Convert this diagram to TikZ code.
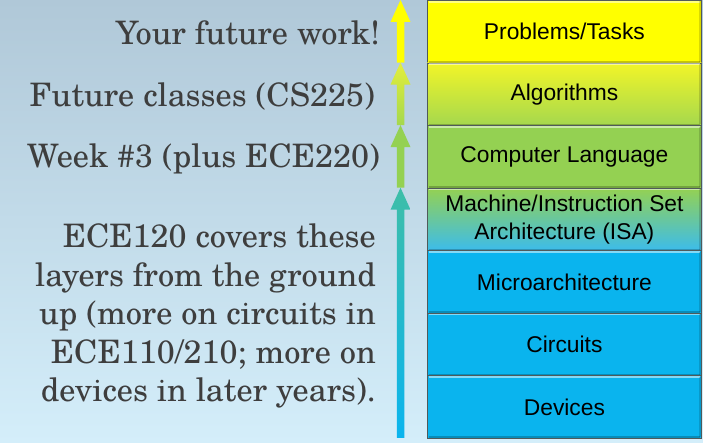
\documentclass[tikz,border=0pt]{standalone}
\usepackage{fontspec}
\newfontfamily\layerfont{Liberation Sans}
\newfontfamily\leftfont{texgyreschola-regular}[Extension=.otf]
\usetikzlibrary{calc}
\definecolor{bgtop}{RGB}{176,200,216}
\definecolor{bgbot}{RGB}{212,238,250}
\definecolor{txtgray}{RGB}{62,62,62}
\definecolor{lyellow}{RGB}{255,255,0}
\definecolor{lyellowB}{RGB}{242,245,40}
\definecolor{lgreenA}{RGB}{165,216,78}
\definecolor{lgreen}{RGB}{148,209,82}
\definecolor{lblue}{RGB}{10,180,238}
\definecolor{lblueB}{RGB}{60,188,235}
\definecolor{arrB}{RGB}{228,238,60}
\definecolor{arrTeal}{RGB}{62,190,168}
\definecolor{edge}{RGB}{80,90,90}
\tikzset{
  layer/.style={rectangle, anchor=north west, minimum width=274pt, minimum height=62.57pt,
    inner sep=0pt, draw=edge, line width=0.8pt, align=center,
    font=\layerfont\fontsize{22.8}{28}\selectfont, text=black},
  lefttext/.style={inner sep=0pt, text=txtgray, font=\leftfont\fontsize{32.3}{38.5}\selectfont},
}
\newcommand\layerarrow[4]{%
  \shade[top color=#3, bottom color=#4]
    ($(#1)+(-3.75,0)$) -- ($(#2)+(-3.75,-22)$) -- ($(#2)+(-10,-22)$) -- (#2)
    -- ($(#2)+(10,-22)$) -- ($(#2)+(3.75,-22)$) -- ($(#1)+(3.75,0)$) -- cycle;}
\begin{document}
\begin{tikzpicture}[x=1pt,y=1pt]
\useasboundingbox (0,0) rectangle (703,443);
\shade[top color=bgtop, bottom color=bgbot] (0,0) rectangle (703,443);

% layers
\node[layer, fill=lyellow] (tasks) at (427,443) {Problems/Tasks};
\node[layer, top color=lyellowB, bottom color=lgreenA] (algo) at (427,380.43) {Algorithms};
\node[layer, fill=lgreen] (lang) at (427,317.86) {Computer Language};
\node[layer, top color=lgreen, bottom color=lblueB] (isa) at (427,255.29) {Machine/Instruction Set\\Architecture (ISA)};
\node[layer, fill=lblue] (uarch) at (427,192.71) {Microarchitecture};
\node[layer, fill=lblue] (circ) at (427,130.14) {Circuits};
\node[layer, fill=lblue] (dev) at (427,67.57) {Devices};

% bevel highlights
\foreach \n in {tasks,algo,lang,isa,uarch,circ,dev}{
  \draw[white, opacity=0.5, line width=1.8pt]
    ([shift={(1.5,-1.7)}]\n.north west) -- ([shift={(-1.5,-1.7)}]\n.north east);
  \draw[black, opacity=0.22, line width=1.6pt]
    ([shift={(1.5,1.6)}]\n.south west) -- ([shift={(-1.5,1.6)}]\n.south east);
  \draw[black, opacity=0.15, line width=1.6pt]
    ([shift={(-1.6,-1.5)}]\n.north east) -- ([shift={(-1.6,1.5)}]\n.south east);
}

% arrow coordinates
\coordinate (a0) at (400.5,443);
\coordinate (a1) at (400.5,380.43);
\coordinate (a2) at (400.5,317.86);
\coordinate (a3) at (400.5,255.29);
\coordinate (a7) at (400.5,5);
\layerarrow{a1}{a0}{lyellow}{lyellow}
\layerarrow{a2}{a1}{arrB}{lgreenA}
\layerarrow{a3}{a2}{lgreen}{lgreen}
\layerarrow{a7}{a3}{arrTeal}{lblue}

% left texts
\node[lefttext, anchor=base east] (t1) at (380,398) {Your future work!};
\node[lefttext, anchor=base east] (t2) at (375,336) {Future classes (CS225)};
\node[lefttext, anchor=base east] (t3) at (380,275) {Week \#3 (plus ECE220)};
\node[lefttext, anchor=north east, align=right] (t4) at (376,219.2)
  {ECE120 covers these\\layers from the ground\\up (more on circuits in\\ECE110/210; more on\\devices in later years).};
\end{tikzpicture}
\end{document}
